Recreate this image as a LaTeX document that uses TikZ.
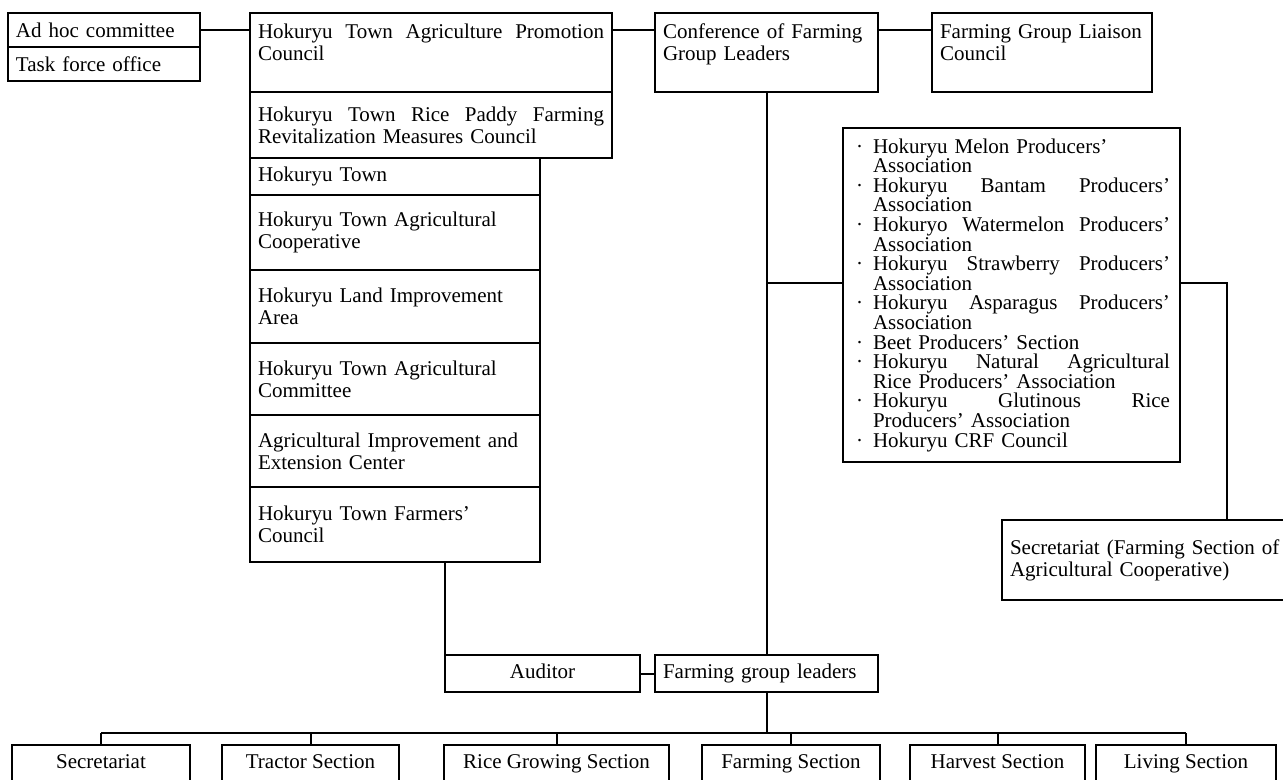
\documentclass[tikz,border=0pt]{standalone}
\usepackage{fontspec}
\setmainfont{Liberation Serif}
\usetikzlibrary{positioning}
\usetikzlibrary{calc}

\newcommand\spread[2]{\hbox to #1{#2}}
\newcommand\itm{\makebox[11pt][l]{\hspace{2.5pt}\textperiodcentered}}
\newcommand\cnt{\hspace*{11pt}}

\begin{document}
\begin{tikzpicture}
[
	x = 0.5pt, y = -0.5pt,
	unit/.style = {draw, line width = 0.7pt, outer sep = 0pt, anchor = north west, inner xsep = 4pt, inner ysep = 0pt, align = left, font = \fontsize{10.5pt}{11pt}\selectfont},
	toprow/.style = {unit, text height = 13pt, text depth = 26.5pt},
	stack/.style = {unit, text width = 137pt, below = 0pt of #1.south west, anchor = north west},
	oneline/.style = {text height = 7.5pt, text depth = 2.5pt},
	section/.style = {unit, oneline, align = center, minimum height = 18pt},
	link/.style = {line width = 1pt},
]

	\useasboundingbox (0,0) rectangle (1283,780);
	\clip (0,0) rectangle (1283,780);

	% top row
	\node (adhoc) [unit, text width = 88pt, minimum height = 17pt] at (8,13) {Ad hoc committee};
	\node (task) [unit, text width = 88pt, minimum height = 17pt, below = 0pt of adhoc.south west, anchor = north west] {Task force office};
	%
	\node (council) [toprow, text width = 173pt] at (250,13) {\spread{173pt}{Hokuryu\hfill Town\hfill Agriculture\hfill Promotion}\\Council};
	\node (conf) [toprow, text width = 103.5pt] at (655,13) {Conference of Farming\\Group Leaders};
	\node (liaison) [toprow, text width = 102pt] at (932,13) {Farming Group Liaison\\Council};

	% member bodies
	\node (paddy) [unit, text width = 173pt, minimum height = 33pt, below = 0pt of council.south west, anchor = north west] {\spread{173pt}{Hokuryu\hfill Town\hfill Rice\hfill Paddy\hfill Farming}\\Revitalization Measures Council};
	\node (town) [stack = paddy, oneline, minimum height = 18.5pt] {Hokuryu Town};
	\node (coop) [stack = town, minimum height = 37.5pt] {Hokuryu Town Agricultural\\Cooperative};
	\node (land) [stack = coop, minimum height = 36.5pt] {Hokuryu Land Improvement\\Area};
	\node (committee) [stack = land, minimum height = 36pt] {Hokuryu Town Agricultural\\Committee};
	\node (extension) [stack = committee, minimum height = 36pt] {Agricultural Improvement and\\Extension Center};
	\node (farmers) [stack = extension, minimum height = 37.5pt] {Hokuryu Town Farmers'\\Council};

	% producers' groups
	\node (list) [unit, text width = 160.5pt, minimum height = 167pt, font = \fontsize{10.5pt}{9.8pt}\selectfont] at (843,128) {%
		\itm Hokuryu Melon Producers'\\
		\cnt Association\\
		\itm\spread{148.5pt}{Hokuryu\hfill Bantam\hfill Producers'}\\
		\cnt Association\\
		\itm\spread{148.5pt}{Hokuryo\hfill Watermelon\hfill Producers'}\\
		\cnt Association\\
		\itm\spread{148.5pt}{Hokuryu\hfill Strawberry\hfill Producers'}\\
		\cnt Association\\
		\itm\spread{148.5pt}{Hokuryu\hfill Asparagus\hfill Producers'}\\
		\cnt Association\\
		\itm Beet Producers' Section\\
		\itm\spread{148.5pt}{Hokuryu\hfill Natural\hfill Agricultural}\\
		\cnt Rice Producers' Association\\
		\itm\spread{148.5pt}{Hokuryu\hfill Glutinous\hfill Rice}\\
		\cnt Producers' Association\\
		\itm Hokuryu CRF Council};
	\node (office) [unit, text width = 137pt, minimum height = 40pt] at (1002,520) {Secretariat (Farming Section of\\Agricultural Cooperative)};

	% leaders
	\node (auditor) [unit, oneline, align = center, minimum width = 97.5pt, minimum height = 18.5pt] at (445,655) {Auditor};
	\node (leaders) [unit, oneline, text width = 103.5pt, minimum height = 18.5pt, right = 7.5pt of auditor.north east, anchor = north west] {Farming group leaders};

	% sections
	\node (secretariat) [section, minimum width = 89pt] at (12,745) {Secretariat};
	\node (tractor) [section, minimum width = 88.5pt] at (222,745) {Tractor Section};
	\node (ricegrowing) [section, minimum width = 112.5pt] at (444,745) {Rice Growing Section};
	\node (farming) [section, minimum width = 89pt] at (702,745) {Farming Section};
	\node (harvest) [section, minimum width = 87.5pt] at (910,745) {Harvest Section};
	\node (living) [section, minimum width = 90pt] at (1096,745) {Living Section};

	% links
	\draw [link] (adhoc.east) -- (adhoc.east -| council.west);
	\draw [link] (council.east |- adhoc.east) -- (conf.west |- adhoc.east);
	\draw [link] (conf.east |- adhoc.east) -- (liaison.west |- adhoc.east);
	%
	\draw [link] (conf) -- (leaders);
	\path (conf.south) ++(0,191) coordinate (fork);
	\draw [link] (fork) -- (fork -| list.west);
	\draw [link] (fork -| list.east) -- ++(47,0) coordinate (turn) -- (turn |- office.north);
	%
	\draw [link] (auditor.north west) -- (auditor.north west |- farmers.south);
	\draw [link] (auditor) -- (leaders);
	\draw [link] (leaders.south) -- ++(0,41) coordinate (bus);
	\draw [link] (bus -| secretariat.north) -- (bus -| living.north);
	\foreach \n in {secretariat, tractor, ricegrowing, farming, harvest, living}
		\draw [link] (\n.north) -- (\n.north |- bus);

\end{tikzpicture}
\end{document}
